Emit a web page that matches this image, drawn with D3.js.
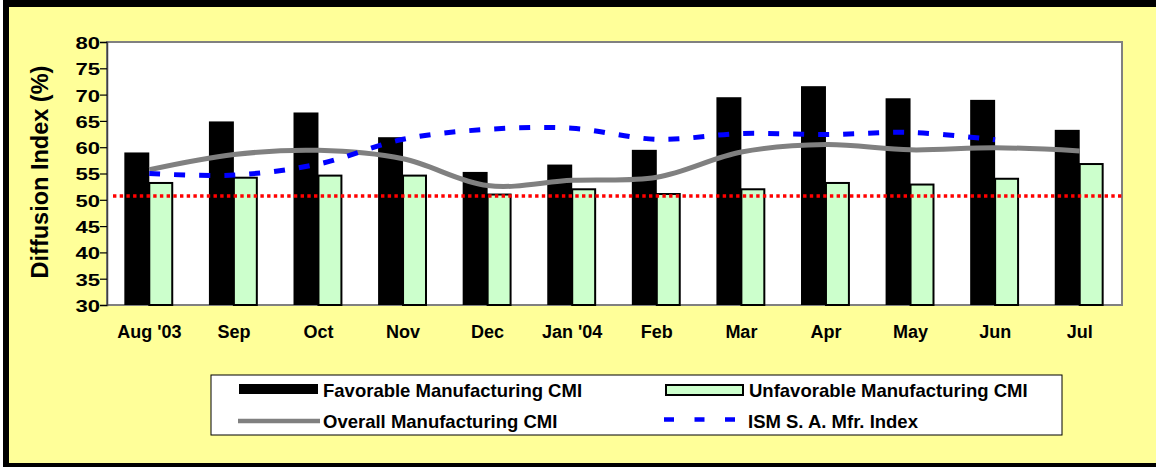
<!DOCTYPE html>
<html>
<head>
<meta charset="utf-8">
<script src="https://cdn.jsdelivr.net/npm/d3@7"></script>
<style>
  body { margin: 0; background: #fff; }
  svg { display: block; font-family: "Liberation Sans", Arial, sans-serif; font-weight: bold; }
</style>
</head>
<body>
<div class="main"></div>
<script>
// Data
const months = ["Aug '03", "Sep", "Oct", "Nov", "Dec", "Jan '04", "Feb", "Mar", "Apr", "May", "Jun", "Jul"];
const favorable = [59.0, 64.9, 66.6, 61.9, 55.3, 56.7, 59.5, 69.5, 71.6, 69.3, 69.0, 63.3];
const unfavorable = [53.2, 54.2, 54.6, 54.6, 51.0, 52.0, 51.1, 52.0, 53.2, 52.9, 54.0, 56.8];
const overall = [55.7, 58.6, 59.4, 57.8, 52.7, 53.7, 54.3, 59.1, 60.5, 59.5, 59.9, 59.3];
const ism = [55.0, 54.7, 56.8, 61.5, 63.4, 63.6, 61.5, 62.6, 62.4, 62.8, 61.4, null];
const refLevel = 50.7;
const yTicks = [30, 35, 40, 45, 50, 55, 60, 65, 70, 75, 80];

//Variables
const width = 1156,
      height = 467,
      plot = {left: 107, right: 1122, top: 42, bottom: 305};

//Create Canvas
const svg = d3.select('.main')
              .append('svg')
              .attr('width', width)
              .attr('height', height);

//Frame
svg.append('rect').attr('x', 3).attr('y', -5).attr('width', width + 10).attr('height', 472).attr('fill', '#000');
svg.append('rect').attr('x', 9).attr('y', 7).attr('width', width + 10).attr('height', 456).attr('fill', '#ffff99');

//Scales
const yScale = d3.scaleLinear().domain([30, 80]).range([plot.bottom, plot.top]);
const xScale = d3.scaleBand().domain(months).range([plot.left, plot.right])
                 .paddingInner(0.41).paddingOuter(0.205);
const subScale = d3.scaleBand().domain(['fav', 'unfav']).range([0, xScale.bandwidth()]);
const cx = (m) => xScale(m) + xScale.bandwidth() / 2;

//Plot area
svg.append('rect')
   .attr('x', plot.left).attr('y', plot.top)
   .attr('width', plot.right - plot.left).attr('height', plot.bottom - plot.top)
   .attr('fill', '#fff').attr('stroke', '#808080').attr('stroke-width', 2);

//Bars
svg.append('g').selectAll('rect')
   .data(months)
   .enter().append('rect')
   .attr('x', d => xScale(d) + subScale('fav'))
   .attr('width', subScale.bandwidth())
   .attr('y', (d, i) => yScale(favorable[i]))
   .attr('height', (d, i) => plot.bottom - yScale(favorable[i]))
   .attr('fill', '#000');

svg.append('g').selectAll('rect')
   .data(months)
   .enter().append('rect')
   .attr('x', d => xScale(d) + subScale('unfav'))
   .attr('width', subScale.bandwidth() - 2)
   .attr('y', (d, i) => yScale(unfavorable[i]))
   .attr('height', (d, i) => plot.bottom - yScale(unfavorable[i]))
   .attr('fill', '#ccffcc')
   .attr('stroke', '#000')
   .attr('stroke-width', 2);

//Reference line
svg.append('line')
   .attr('x1', plot.left + 6).attr('x2', plot.right)
   .attr('y1', yScale(refLevel)).attr('y2', yScale(refLevel))
   .attr('stroke', '#ff0000').attr('stroke-width', 3.5)
   .attr('stroke-dasharray', '3.4,3.3');

//Lines
const line = d3.line()
               .defined(d => d[1] != null)
               .x(d => cx(d[0]))
               .y(d => yScale(d[1]))
               .curve(d3.curveCatmullRom.alpha(0.5));

svg.append('path')
   .attr('d', line(months.map((m, i) => [m, overall[i]])))
   .attr('fill', 'none').attr('stroke', '#808080').attr('stroke-width', 5);

svg.append('path')
   .attr('d', line(months.map((m, i) => [m, ism[i]])))
   .attr('fill', 'none').attr('stroke', '#0000ff').attr('stroke-width', 5)
   .attr('stroke-dasharray', '11,14');

//Axes
const yAxis = svg.append('g')
   .attr('transform', `translate(${plot.left}, 0)`)
   .call(d3.axisLeft(yScale).tickValues(yTicks).tickSize(7).tickPadding(7));
yAxis.select('.domain').attr('stroke', '#404040').attr('stroke-width', 1.5);
yAxis.selectAll('.tick line').attr('stroke', '#000').attr('stroke-width', 1.2);
yAxis.selectAll('.tick text')
     .attr('font-size', 17).attr('font-family', '"Liberation Sans", Arial, sans-serif')
     .attr('fill', '#000').attr('dy', '0.38em')
     .attr('transform', 'scale(1.3,1)').attr('x', -7 / 1.3);

const xAxis = svg.append('g')
   .attr('transform', `translate(0, ${plot.bottom})`)
   .call(d3.axisBottom(xScale).tickSize(0).tickPadding(0));
xAxis.select('.domain').remove();
xAxis.selectAll('.tick text')
     .attr('font-size', 18).attr('font-family', '"Liberation Sans", Arial, sans-serif')
     .attr('fill', '#000').attr('dy', 0).attr('y', 33);

//Axis title
svg.append('text')
   .attr('transform', 'translate(48, 172) rotate(-90)')
   .attr('text-anchor', 'middle')
   .attr('font-size', 23.5)
   .text('Diffusion Index (%)');

//Legend
const legend = svg.append('g');
legend.append('rect')
      .attr('x', 211).attr('y', 375).attr('width', 851).attr('height', 60)
      .attr('fill', '#fff').attr('stroke', '#000').attr('stroke-width', 1);

legend.append('rect').attr('x', 239).attr('y', 384).attr('width', 79).attr('height', 10).attr('fill', '#000');
legend.append('rect').attr('x', 666).attr('y', 385).attr('width', 77).attr('height', 10)
      .attr('fill', '#ccffcc').attr('stroke', '#000').attr('stroke-width', 2);
legend.append('line').attr('x1', 238).attr('x2', 320).attr('y1', 421).attr('y2', 421)
      .attr('stroke', '#808080').attr('stroke-width', 4.5);
legend.append('line').attr('x1', 664).attr('x2', 736).attr('y1', 419.5).attr('y2', 419.5)
      .attr('stroke', '#0000ff').attr('stroke-width', 4.5).attr('stroke-dasharray', '10,20.5');

const legendItems = [
  {label: 'Favorable Manufacturing CMI', x: 323, y: 397},
  {label: 'Unfavorable Manufacturing CMI', x: 749, y: 397},
  {label: 'Overall Manufacturing CMI', x: 323, y: 428},
  {label: 'ISM S. A. Mfr. Index', x: 748, y: 428}
];
legend.selectAll('text.item')
      .data(legendItems)
      .enter().append('text')
      .attr('class', 'item')
      .attr('x', d => d.x).attr('y', d => d.y)
      .attr('font-size', 18.5)
      .text(d => d.label);
</script>
</body>
</html>
